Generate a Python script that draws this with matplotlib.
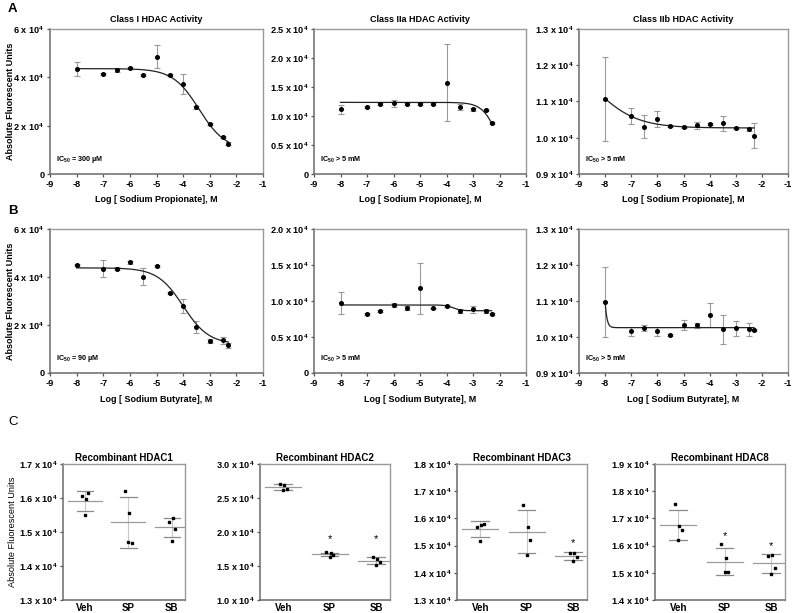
import numpy as np
import matplotlib
matplotlib.use("Agg")
import matplotlib.pyplot as plt

plt.rcParams['font.family'] = ['Liberation Sans', 'DejaVu Sans']
plt.rcParams['font.weight'] = 'bold'
plt.rcParams['axes.titleweight'] = 'bold'
plt.rcParams['axes.labelweight'] = 'bold'
plt.rcParams['axes.unicode_minus'] = False
plt.rcParams['mathtext.fontset'] = 'custom'
plt.rcParams['mathtext.rm'] = 'Liberation Sans:bold'
plt.rcParams['mathtext.it'] = 'Liberation Sans:bold'
plt.rcParams['mathtext.bf'] = 'Liberation Sans:bold'
plt.rcParams['mathtext.default'] = 'rm'

# ---- dose response data (values in units of 10^4 fluorescent units) ----
log_conc = [-8, -7, -6.5, -6, -5.5, -5, -4.5, -4, -3.5, -3, -2.5, -2.3]

sp_class1 = [4.34, 4.13, 4.29, 4.39, 4.10, 4.86, 4.09, 3.73, 2.76, 2.06, 1.54, 1.26]
sp_class1_err = [0.29, 0.03, 0.08, 0.05, 0.05, 0.47, 0.05, 0.42, 0.05, 0.05, 0.05, 0.05]
sp_class2a = [1.114, 1.16, 1.207, 1.218, 1.207, 1.212, 1.207, 1.576, 1.16, 1.114, 1.10, 0.883]
sp_class2a_err = [0.08, 0.02, 0.02, 0.06, 0.02, 0.02, 0.02, 0.66, 0.05, 0.02, 0.02, 0.02]
sp_class2b = [1.108, 1.059, 1.031, 1.051, 1.033, 1.030, 1.034, 1.038, 1.040, 1.026, 1.023, 1.006]
sp_class2b_err = [0.116, 0.022, 0.031, 0.022, 0.003, 0.003, 0.009, 0.003, 0.02, 0.003, 0.003, 0.034]

sb_class1 = [4.49, 4.35, 4.35, 4.61, 4.01, 4.47, 3.34, 2.78, 1.92, 1.33, 1.36, 1.16]
sb_class1_err = [0.05, 0.36, 0.05, 0.05, 0.36, 0.05, 0.05, 0.30, 0.26, 0.08, 0.15, 0.10]
sb_class2a = [0.972, 0.821, 0.862, 0.945, 0.899, 1.174, 0.899, 0.931, 0.862, 0.885, 0.862, 0.817]
sb_class2a_err = [0.156, 0.01, 0.01, 0.03, 0.03, 0.35, 0.01, 0.01, 0.03, 0.05, 0.03, 0.01]
sb_class2b = [1.097, 1.016, 1.026, 1.016, 1.006, 1.033, 1.033, 1.061, 1.021, 1.024, 1.021, 1.019]
sb_class2b_err = [0.098, 0.012, 0.008, 0.012, 0.002, 0.014, 0.007, 0.033, 0.040, 0.021, 0.018, 0.003]

# four parameter logistic fits: top, bottom, logIC50, hill slope
fit_sp = [(4.36, 1.0, -3.40, 0.88), (1.235, 0.0, -2.04, 1.5), (1.25, 1.027, -8.459, 0.532)]
fit_sb = [(4.38, 1.2, -4.0, 0.9), (0.945, 0.865, -3.75, 3.0), (1.5, 1.026, -8.112, 6.75)]

dose_titles = ["Class I HDAC Activity", "Class IIa HDAC Activity", "Class IIb HDAC Activity"]
ic50_sp = ["IC$_{50}$ = 300 \u00b5M", "IC$_{50}$ > 5 mM", "IC$_{50}$ > 5 mM"]
ic50_sb = ["IC$_{50}$ = 90 \u00b5M", "IC$_{50}$ > 5 mM", "IC$_{50}$ > 5 mM"]
yticks_class1 = [0, 2, 4, 6]
ytl_class1 = ["0", "2 x $10^4$", "4 x $10^4$", "6 x $10^4$"]
yticks_2a_sp = [0, 0.5, 1.0, 1.5, 2.0, 2.5]
ytl_2a_sp = ["0", "0.5 x $10^4$", "1.0 x $10^4$", "1.5 x $10^4$", "2.0 x $10^4$", "2.5 x $10^4$"]
yticks_2a_sb = [0, 0.5, 1.0, 1.5, 2.0]
ytl_2a_sb = ["0", "0.5 x $10^4$", "1.0 x $10^4$", "1.5 x $10^4$", "2.0 x $10^4$"]
yticks_2b = [0.9, 1.0, 1.1, 1.2, 1.3]
ytl_2b = ["0.9 x $10^4$", "1.0 x $10^4$", "1.1 x $10^4$", "1.2 x $10^4$", "1.3 x $10^4$"]

# ---- recombinant enzyme data (replicates, units of 10^4) ----
groups = ["Veh", "SP", "SB"]
hdac1 = [[1.605, 1.598, 1.615, 1.550], [1.622, 1.556, 1.467, 1.470], [1.530, 1.540, 1.510, 1.475]]
hdac2 = [[2.70, 2.69, 2.63, 2.62], [1.70, 1.685, 1.66, 1.637], [1.635, 1.605, 1.565, 1.515]]
hdac3 = [[1.568, 1.575, 1.580, 1.517], [1.651, 1.567, 1.520, 1.465], [1.474, 1.471, 1.459, 1.444]]
hdac8 = [[1.753, 1.672, 1.658, 1.620], [1.606, 1.553, 1.503, 1.503], [1.563, 1.567, 1.519, 1.495]]
rec_titles = ["Recombinant HDAC1", "Recombinant HDAC2", "Recombinant HDAC3", "Recombinant HDAC8"]
rec_ylims = [(1.3, 1.7), (1.0, 3.0), (1.3, 1.8), (1.4, 1.9)]
rec_ystep = [0.1, 0.5, 0.1, 0.1]
# significance stars: (group index, height)
rec_stars = [[], [(1, 1.90), (2, 1.90)], [(2, 1.51)], [(1, 1.635), (2, 1.598)]]

W, H = 792, 613


def px_axes(x0, x1, y0, y1):
    return fig.add_axes([x0 / W, 1 - y1 / H, (x1 - x0) / W, (y1 - y0) / H])


def style_box(ax, size):
    for s in ['left', 'bottom']:
        ax.spines[s].set_color('#6a6a6a')
        ax.spines[s].set_linewidth(1.1)
    for s in ['top', 'right']:
        ax.spines[s].set_color('#9a9a9a')
        ax.spines[s].set_linewidth(1.0)
    ax.tick_params(axis='both', which='both', direction='out', length=2.5, width=0.9,
                   color='#555555', labelsize=size, pad=1.5, top=False, right=False)


def logistic(x, top, bottom, logic50, hill):
    return bottom + (top - bottom) / (1 + 10 ** (hill * (x - logic50)))


fig = plt.figure(figsize=(W / 100, H / 100), dpi=100)

cols = [(50, 263), (314, 526), (579, 788)]
rows = [(29, 174), (229, 373)]
row_data = [
    ([sp_class1, sp_class2a, sp_class2b], [sp_class1_err, sp_class2a_err, sp_class2b_err], fit_sp, ic50_sp,
     "Log [ Sodium Propionate], M", [(yticks_class1, ytl_class1), (yticks_2a_sp, ytl_2a_sp), (yticks_2b, ytl_2b)]),
    ([sb_class1, sb_class2a, sb_class2b], [sb_class1_err, sb_class2a_err, sb_class2b_err], fit_sb, ic50_sb,
     "Log [ Sodium Butyrate], M", [(yticks_class1, ytl_class1), (yticks_2a_sb, ytl_2a_sb), (yticks_2b, ytl_2b)]),
]

xfit = np.linspace(-8, -2.3, 400)
for r, (y0, y1) in enumerate(rows):
    vals, errs, fits, ics, xlab, yt = row_data[r]
    for c, (x0, x1) in enumerate(cols):
        ax = px_axes(x0, x1, y0, y1)
        style_box(ax, 6.6)
        ax.errorbar(log_conc, vals[c], yerr=errs[c], fmt='none', ecolor='#9a9a9a',
                    elinewidth=0.8, capsize=2, capthick=0.8, zorder=2)
        ax.plot(xfit, logistic(xfit, *fits[c]), color='#222222', lw=0.9, zorder=3)
        ax.plot(log_conc, vals[c], 'o', color='black', ms=2.6, zorder=4)
        ax.set_xlim(-9, -1)
        ax.set_xticks(range(-9, 0))
        ticks, labels = yt[c]
        ax.set_ylim(ticks[0], ticks[-1])
        ax.set_yticks(ticks)
        ax.set_yticklabels(labels)
        ax.set_xlabel(xlab, fontsize=6.5, labelpad=5)
        if r == 0:
            ax.set_title(dose_titles[c], fontsize=6.5, pad=5)
        if c == 0:
            ax.set_ylabel("Absolute Fluorescent Units", fontsize=6.5)
            ax.yaxis.set_label_coords(-0.165, 0.5)
        ax.text(0.03, 0.06, ics[c], transform=ax.transAxes, fontsize=5.2, ha='left', va='bottom')

fig.text(8 / W, 1 - 9 / H, "A", fontsize=9.5, fontweight='bold', va='center')
fig.text(8 / W, 1 - 211 / H, "B", fontsize=9.5, fontweight='bold', va='center')
fig.text(8 / W, 1 - 422 / H, "C", fontsize=9.5, fontweight='normal', va='center')

rec_cols = [(63, 185), (260, 390), (457, 587), (655, 785)]
rec_data = [hdac1, hdac2, hdac3, hdac8]
jitter = [-0.07, 0.02, 0.08, 0.0]
for i, (x0, x1) in enumerate(rec_cols):
    ax = px_axes(x0, x1, 464, 600)
    style_box(ax, 6.6)
    for g, reps in enumerate(rec_data[i]):
        pos = g + 1
        m = np.mean(reps)
        sd = np.std(reps, ddof=1)
        ax.plot([pos, pos], [m - sd, m + sd], color='#c8c8c8', lw=0.8, zorder=1)
        ax.plot([pos - 0.39, pos + 0.39], [m, m], color='#9a9a9a', lw=0.9, zorder=2)
        ax.plot([pos - 0.19, pos + 0.19], [m + sd, m + sd], color='#8a8a8a', lw=0.9, zorder=2)
        ax.plot([pos - 0.19, pos + 0.19], [m - sd, m - sd], color='#8a8a8a', lw=0.9, zorder=2)
        ax.plot([pos + j for j in jitter], reps, 's', color='black', ms=1.8, zorder=3)
    for g, h in rec_stars[i]:
        ax.text(g + 1, h, "*", ha='center', va='center', fontsize=8, fontweight='normal')
    lo, hi = rec_ylims[i]
    ticks = np.arange(lo, hi + 1e-6, rec_ystep[i])
    ax.set_ylim(lo, hi)
    ax.set_yticks(ticks)
    ax.set_yticklabels(["%.1f x $10^4$" % t for t in ticks])
    ax.set_xlim(0.5, 3.3)
    ax.set_xticks([1, 2, 3])
    ax.set_xticklabels(groups, fontsize=7)
    ax.tick_params(axis='x', length=0, pad=2)
    ax.set_title(rec_titles[i], fontsize=7, pad=2)
    if i == 0:
        ax.set_ylabel("Absolute Fluorescent Units", fontsize=6.6, fontweight='normal')
        ax.yaxis.set_label_coords(-0.375, 0.5)

fig.savefig("out.png", dpi=100)
